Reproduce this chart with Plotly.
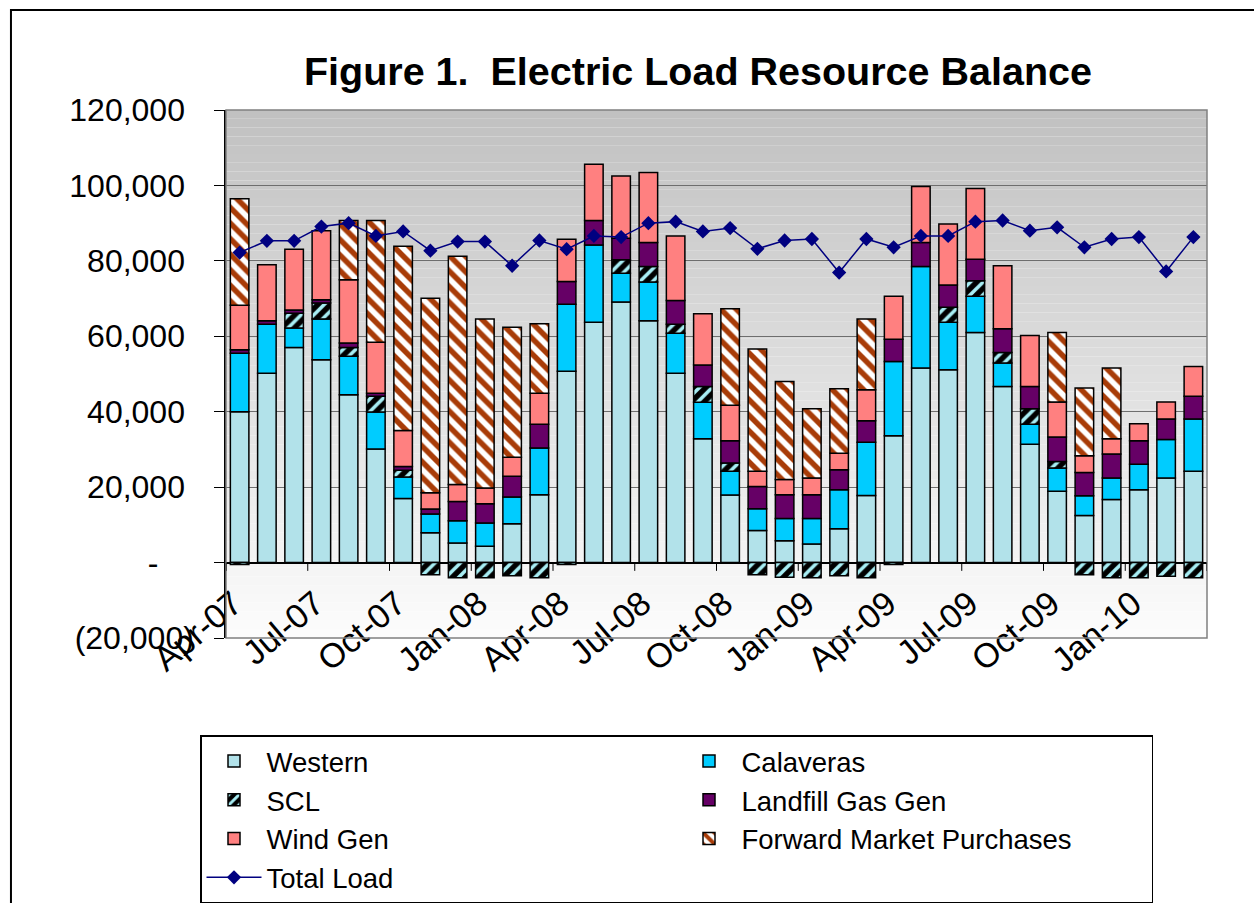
import plotly.graph_objects as go

months = ["Apr-07", "May-07", "Jun-07", "Jul-07", "Aug-07", "Sep-07", "Oct-07", "Nov-07", "Dec-07",
          "Jan-08", "Feb-08", "Mar-08", "Apr-08", "May-08", "Jun-08", "Jul-08", "Aug-08", "Sep-08",
          "Oct-08", "Nov-08", "Dec-08", "Jan-09", "Feb-09", "Mar-09", "Apr-09", "May-09", "Jun-09",
          "Jul-09", "Aug-09", "Sep-09", "Oct-09", "Nov-09", "Dec-09", "Jan-10", "Feb-10", "Mar-10"]

western = [40000, 50200, 57000, 53800, 44500, 30100, 17000, 7900, 5200, 4300, 10300, 18000,
           50700, 63700, 69100, 64100, 50200, 32800, 17900, 8500, 5800, 4900, 9000, 17800,
           33600, 51600, 51100, 61000, 46700, 31400, 18900, 12500, 16700, 19300, 22400, 24200]
calaveras = [15500, 13000, 5200, 10800, 10200, 9800, 5700, 5000, 5900, 6200, 7100, 12400,
             17800, 20500, 7600, 10300, 10600, 9700, 6300, 5800, 5900, 6800, 10300, 14100,
             19700, 26900, 12600, 9600, 6200, 5300, 6200, 5200, 5700, 6800, 10200, 13900]
scl = [-500, 0, 3900, 4200, 2300, 4200, 1800, -3200, -4000, -4000, -3500, -4000,
       -500, 0, 3600, 4100, 2400, 4200, 2200, -3200, -3900, -4000, -3500, -4000,
       -500, 0, 4000, 4100, 2800, 4100, 1700, -3200, -4000, -4000, -3600, -4000]
landfill = [900, 900, 900, 900, 1200, 800, 1000, 1300, 5100, 5100, 5500, 6300,
            6000, 6500, 5700, 6400, 6300, 5700, 5900, 5900, 6300, 6300, 5300, 5700,
            5900, 6400, 5900, 5700, 6300, 5900, 6500, 6200, 6400, 6200, 5500, 6000]
wind = [11800, 14900, 16100, 18300, 16800, 13500, 9500, 4300, 4500, 4200, 5000, 8200,
        11200, 14900, 16500, 18500, 17100, 13600, 9400, 4000, 4000, 4400, 4400, 8200,
        11400, 14800, 16200, 18800, 16700, 13500, 9300, 4400, 4000, 4500, 4500, 7900]
forward = [28300, 0, 0, 0, 15700, 32300, 48900, 51600, 60500, 44800, 34500, 18400,
           0, 0, 0, 0, 0, 0, 25600, 32400, 26000, 18400, 17100, 18800,
           0, 0, 0, 0, 0, 0, 18400, 18000, 18800, 0, 0, 0]
total_load = [82200, 85300, 85300, 89100, 90000, 86600, 87800, 82700, 85100, 85100, 78700, 85400,
              83100, 86600, 86300, 90000, 90400, 87800, 88700, 83200, 85400, 85800, 76900, 85800,
              83600, 86600, 86600, 90400, 90700, 88000, 88900, 83600, 85800, 86300, 77200, 86300]

x_tick_labels = months[::3]
y_tick_vals = [-20000, 0, 20000, 40000, 60000, 80000, 100000, 120000]
y_tick_text = ["(20,000)", "-\u00a0\u00a0\u00a0\u00a0", "20,000\u00a0", "40,000\u00a0", "60,000\u00a0",
               "80,000\u00a0", "100,000\u00a0", "120,000\u00a0"]


def nz(vals):
    return [v if v else None for v in vals]


outline = dict(color="black", width=1.5)
fig = go.Figure()
fig.add_trace(go.Bar(name="Western", x=months, y=nz(western),
                     marker=dict(color="#b2e2ea", line=outline)))
fig.add_trace(go.Bar(name="Calaveras", x=months, y=nz(calaveras),
                     marker=dict(color="#00ccff", line=outline)))
fig.add_trace(go.Bar(name="SCL", x=months, y=nz(scl),
                     marker=dict(color="black", line=outline,
                                 pattern=dict(shape="/", bgcolor="black", fgcolor="#a8eef4",
                                              fgopacity=1, size=9, solidity=0.4))))
fig.add_trace(go.Bar(name="Landfill Gas Gen", x=months, y=nz(landfill),
                     marker=dict(color="#660066", line=outline)))
fig.add_trace(go.Bar(name="Wind Gen", x=months, y=nz(wind),
                     marker=dict(color="#ff8080", line=outline)))
fig.add_trace(go.Bar(name="Forward Market Purchases", x=months, y=nz(forward),
                     marker=dict(color="white", line=outline,
                                 pattern=dict(shape="\\", bgcolor="white", fgcolor="#a83c08",
                                              fgopacity=1, size=11, solidity=0.5))))
fig.add_trace(go.Scatter(name="Total Load", x=months, y=total_load, mode="lines+markers",
                         line=dict(color="#000080", width=1.5),
                         marker=dict(symbol="diamond", size=11, color="#000080")))

shapes = []
n_bands = 60
for i in range(n_bands):
    t0 = i / n_bands
    t1 = (i + 1) / n_bands
    g = int(round(253 - 61 * (t0 + t1) / 2))
    shapes.append(dict(type="rect", xref="x domain", yref="y domain", x0=0, x1=1, y0=t0, y1=t1,
                       line=dict(width=0), fillcolor=f"rgb({g},{g},{g})", layer="below"))
# plot area border
shapes.append(dict(type="rect", xref="paper", yref="paper", x0=0, x1=1, y0=0, y1=1,
                   line=dict(color="#808080", width=1.5), layer="above"))
# category tick marks on the zero line
for k in range(0, len(months) + 1, 3):
    shapes.append(dict(type="line", xref="x", yref="y", x0=k - 0.5, x1=k - 0.5, y0=0, y1=-2200,
                       line=dict(color="black", width=1), layer="above"))
# outer chart frame
shapes.append(dict(type="rect", xref="paper", yref="paper", x0=-0.2192, x1=1.06, y0=-0.52, y1=1.1894,
                   line=dict(color="black", width=2), layer="above"))

fig.update_layout(
    width=1254, height=903,
    margin=dict(l=226, r=47, t=110, b=265, autoexpand=False),
    paper_bgcolor="white", plot_bgcolor="white",
    barmode="relative", bargap=0.32,
    font=dict(family="Liberation Sans, Arial, sans-serif", size=31, color="black"),
    title=dict(text="<b>Figure 1.\u00a0 Electric Load Resource Balance</b>", xref="container",
               yref="container", x=0.5566, y=0.921, xanchor="center", yanchor="middle",
               font=dict(size=39.5, color="black")),
    showlegend=True,
    legend=dict(orientation="h", x=-0.0265, y=-0.184, xanchor="left", yanchor="top",
                traceorder="normal", entrywidth=405, entrywidthmode="pixels", itemwidth=55,
                bordercolor="black", borderwidth=1.5, bgcolor="white",
                font=dict(size=27.5)),
    shapes=shapes,
)
fig.update_xaxes(type="category", range=[-0.5, len(months) - 0.5], tickmode="array",
                 tickvals=x_tick_labels, ticktext=x_tick_labels,
                 tickangle=-40, ticks="", showgrid=False, showline=False, automargin=False,
                 ticklabelstandoff=-62, ticklabelshift=-6, tickfont=dict(size=34))
fig.update_yaxes(range=[-20000, 120000], tickmode="array", tickvals=y_tick_vals, ticktext=y_tick_text,
                 showgrid=True, gridcolor="#6e6e6e", gridwidth=1.3, automargin=False,
                 zeroline=True, zerolinecolor="black", zerolinewidth=1.5,
                 showline=True, linecolor="black", linewidth=1.5,
                 ticks="outside", ticklen=10, tickcolor="black", ticklabelstandoff=14,
                 tickfont=dict(size=32))

fig.write_html("out.html", post_script="document.body.style.margin='0';",
               config={"displayModeBar": False})
